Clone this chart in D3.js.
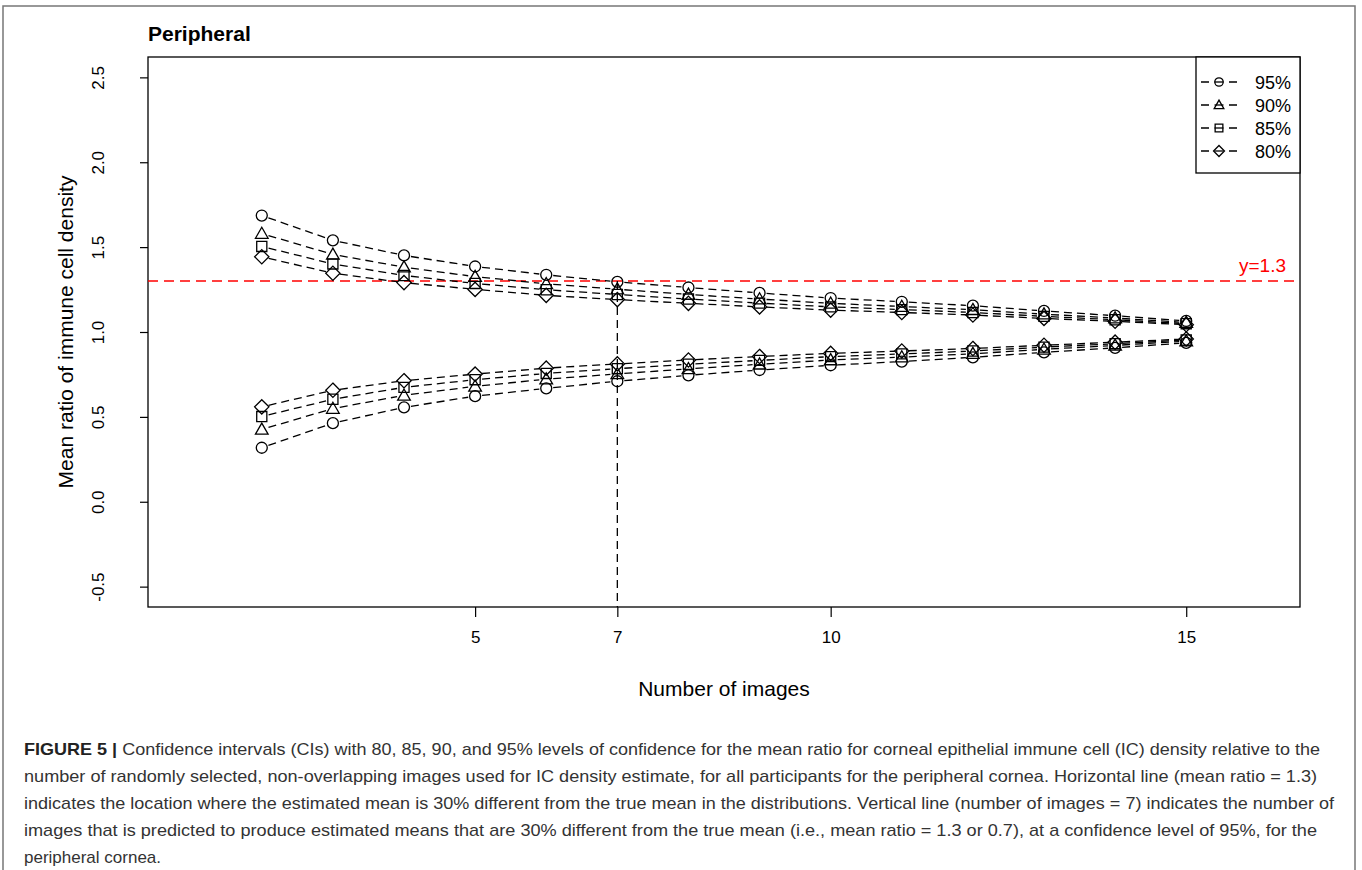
<!DOCTYPE html>
<html>
<head>
<meta charset="utf-8">
<script src="https://cdn.jsdelivr.net/npm/d3@7"></script>
<style>
  body { margin: 0; background: #fff; }
  svg text { font-family: "Liberation Sans", Arial, Helvetica, sans-serif; }
</style>
</head>
<body>
<div id="chart"></div>
<script>
// Number of images on the x axis
var nImages = [2, 3, 4, 5, 6, 7, 8, 9, 10, 11, 12, 13, 14, 15];

// Confidence levels (legend order) and their symbols
var levels = ["95%", "90%", "85%", "80%"];
var symbols = ["circle", "triangle", "square", "diamond"];

// Upper and lower CI limits of the mean ratio, per level
var upper95 = [1.686, 1.540, 1.451, 1.386, 1.337, 1.295, 1.262, 1.230, 1.200, 1.178, 1.155, 1.124, 1.096, 1.065];
var lower95 = [0.318, 0.463, 0.556, 0.622, 0.668, 0.710, 0.745, 0.776, 0.804, 0.826, 0.851, 0.880, 0.907, 0.936];
var upper90 = [1.580, 1.457, 1.382, 1.326, 1.284, 1.252, 1.221, 1.194, 1.169, 1.150, 1.131, 1.105, 1.082, 1.056];
var lower90 = [0.426, 0.549, 0.627, 0.680, 0.722, 0.753, 0.783, 0.810, 0.835, 0.852, 0.872, 0.898, 0.921, 0.946];
var upper85 = [1.504, 1.401, 1.333, 1.286, 1.249, 1.221, 1.194, 1.170, 1.148, 1.132, 1.115, 1.092, 1.072, 1.049];
var lower85 = [0.502, 0.604, 0.674, 0.719, 0.756, 0.784, 0.810, 0.833, 0.855, 0.871, 0.888, 0.911, 0.931, 0.953];
var upper80 = [1.443, 1.346, 1.291, 1.251, 1.216, 1.191, 1.169, 1.148, 1.129, 1.115, 1.100, 1.080, 1.063, 1.043];
var lower80 = [0.559, 0.657, 0.713, 0.752, 0.787, 0.812, 0.835, 0.856, 0.874, 0.888, 0.903, 0.922, 0.940, 0.959];

// Axis ticks and reference lines
var xTicks = [5, 7, 10, 15];
var yTicks = [-0.5, 0, 0.5, 1, 1.5, 2, 2.5];
var refY = 1.3;
var refX = 7;

var caption = [
  "Confidence intervals (CIs) with 80, 85, 90, and 95% levels of confidence for the mean ratio for corneal epithelial immune cell (IC) density relative to the",
  "number of randomly selected, non-overlapping images used for IC density estimate, for all participants for the peripheral cornea. Horizontal line (mean ratio = 1.3)",
  "indicates the location where the estimated mean is 30% different from the true mean in the distributions. Vertical line (number of images = 7) indicates the number of",
  "images that is predicted to produce estimated means that are 30% different from the true mean (i.e., mean ratio = 1.3 or 0.7), at a confidence level of 95%, for the",
  "peripheral cornea."
];

var W = 1362, H = 870;
var plot = {left: 148, right: 1300, top: 57, bottom: 607};

var svg = d3.select("#chart").append("svg")
  .attr("width", W).attr("height", H);

// outer frame of the figure
svg.append("path")
  .attr("d", "M3," + H + "V6H1355V" + H)
  .attr("fill", "none").attr("stroke", "#777").attr("stroke-width", 1.5);

// scales (R style: 4% extension of xlim c(1,16), ylim c(-0.5,2.5))
var x = d3.scaleLinear().domain([0.4, 16.6]).range([plot.left, plot.right]);
var y = d3.scaleLinear().domain([-0.62, 2.62]).range([plot.bottom, plot.top]);

// Title
svg.append("text").attr("x", 148).attr("y", 41)
  .style("font-size", "21px").style("font-weight", "bold").text("Peripheral");

// Plot box
svg.append("rect")
  .attr("x", plot.left).attr("y", plot.top)
  .attr("width", plot.right - plot.left).attr("height", plot.bottom - plot.top)
  .attr("fill", "none").attr("stroke", "#000").attr("stroke-width", 1.3);

// X axis
var xAxis = svg.append("g")
  .attr("transform", "translate(0," + plot.bottom + ")")
  .call(d3.axisBottom(x).tickValues(xTicks).tickSize(10).tickPadding(14).tickFormat(d3.format("d")));
xAxis.select(".domain").remove();
xAxis.selectAll("line").attr("stroke-width", 1.2);
xAxis.selectAll("text").style("font-size", "17px").attr("fill", "#000")
  .style("font-family", "'Liberation Sans', Arial, sans-serif");

// Y axis with rotated labels (R prints a plain hyphen for negatives)
var yAxis = svg.append("g")
  .attr("transform", "translate(" + plot.left + ",0)")
  .call(d3.axisLeft(y).tickValues(yTicks).tickSize(8)
    .tickFormat(function (d) { return d.toFixed(1); }));
yAxis.select(".domain").remove();
yAxis.selectAll("line").attr("stroke-width", 1.2);
yAxis.selectAll("text")
  .attr("x", null).attr("dy", null)
  .attr("transform", "translate(-44,0) rotate(-90)")
  .attr("text-anchor", "middle")
  .attr("fill", "#000")
  .style("font-size", "17px")
  .style("font-family", "'Liberation Sans', Arial, sans-serif");

// Axis titles
svg.append("text")
  .attr("transform", "translate(73," + ((plot.top + plot.bottom) / 2) + ") rotate(-90)")
  .attr("text-anchor", "middle").style("font-size", "21px").text("Mean ratio of immune cell density");
svg.append("text")
  .attr("x", (plot.left + plot.right) / 2).attr("y", 696)
  .attr("text-anchor", "middle").style("font-size", "21px").text("Number of images");

// Reference lines
svg.append("line")
  .attr("x1", plot.left).attr("x2", plot.right)
  .attr("y1", y(refY)).attr("y2", y(refY))
  .attr("stroke", "#f00").attr("stroke-width", 1.6).attr("stroke-dasharray", "10,6");
svg.append("text")
  .attr("x", 1286).attr("y", y(refY) - 9)
  .attr("text-anchor", "end").attr("fill", "#f00").style("font-size", "19px").text("y=1.3");
svg.append("line")
  .attr("x1", x(refX)).attr("x2", x(refX))
  .attr("y1", y(refY)).attr("y2", plot.bottom)
  .attr("stroke", "#000").attr("stroke-width", 1.3).attr("stroke-dasharray", "8,5");

// symbol path generator centred at 0,0
function symbolPath(type, s) {
  if (type === "circle") return "M" + (-s) + ",0a" + s + "," + s + " 0 1,0 " + (2 * s) + ",0a" + s + "," + s + " 0 1,0 " + (-2 * s) + ",0";
  if (type === "triangle") { var h = s * 1.15; return "M0," + (-h) + "L" + (h) + "," + (h * 0.75) + "L" + (-h) + "," + (h * 0.75) + "Z"; }
  if (type === "square") { var q = s * 0.92; return "M" + (-q) + "," + (-q) + "H" + q + "V" + q + "H" + (-q) + "Z"; }
  if (type === "diamond") { var d = s * 1.3; return "M0," + (-d) + "L" + d + ",0L0," + d + "L" + (-d) + ",0Z"; }
}

var series = [
  {level: levels[0], sym: symbols[0], up: upper95, lo: lower95},
  {level: levels[1], sym: symbols[1], up: upper90, lo: lower90},
  {level: levels[2], sym: symbols[2], up: upper85, lo: lower85},
  {level: levels[3], sym: symbols[3], up: upper80, lo: lower80}
];

// dashed connecting segments with gaps around the points (type = "b")
var gap = 7;
var lines = svg.append("g");
series.forEach(function (s) {
  [s.up, s.lo].forEach(function (vals) {
    for (var i = 0; i < nImages.length - 1; i++) {
      var x1 = x(nImages[i]), y1 = y(vals[i]), x2 = x(nImages[i + 1]), y2 = y(vals[i + 1]);
      var len = Math.hypot(x2 - x1, y2 - y1), ux = (x2 - x1) / len, uy = (y2 - y1) / len;
      lines.append("line")
        .attr("x1", x1 + ux * gap).attr("y1", y1 + uy * gap)
        .attr("x2", x2 - ux * gap).attr("y2", y2 - uy * gap)
        .attr("stroke", "#000").attr("stroke-width", 1.3).attr("stroke-dasharray", "8,5");
    }
  });
});

// points
var pts = svg.append("g");
series.forEach(function (s) {
  [s.up, s.lo].forEach(function (vals) {
    pts.selectAll(null).data(nImages).enter().append("path")
      .attr("transform", function (d, i) { return "translate(" + x(d) + "," + y(vals[i]) + ")"; })
      .attr("d", symbolPath(s.sym, 5.5))
      .attr("fill", "none").attr("stroke", "#000").attr("stroke-width", 1.3);
  });
});

// Legend
var lg = svg.append("g");
lg.append("rect").attr("x", 1196).attr("y", plot.top).attr("width", plot.right - 1196).attr("height", 116)
  .attr("fill", "#fff").attr("stroke", "#000").attr("stroke-width", 1.3);
var entries = lg.selectAll("g.entry").data(series).enter().append("g")
  .attr("class", "entry")
  .attr("transform", function (d, i) { return "translate(0," + (82 + i * 23) + ")"; });
entries.append("line").attr("x1", 1201).attr("x2", 1237).attr("y1", 0).attr("y2", 0)
  .attr("stroke", "#000").attr("stroke-width", 1.3).attr("stroke-dasharray", "8,20");
entries.append("path").attr("transform", "translate(1219,0)")
  .attr("d", function (d) { return symbolPath(d.sym, 4.2); })
  .attr("fill", "#fff").attr("stroke", "#000").attr("stroke-width", 1.3);
entries.append("line").attr("x1", 1214.5).attr("x2", 1223.5).attr("y1", 0).attr("y2", 0)
  .attr("stroke", "#000").attr("stroke-width", 1.3);
entries.append("text").attr("x", 1255).attr("y", 6.5)
  .style("font-size", "18px").text(function (d) { return d.level; });

// Caption
var cap = svg.append("g").attr("fill", "#333");
var capEnds = [1320, 1317, 1334, 1317];
caption.forEach(function (line, i) {
  var t = cap.append("text").attr("x", 24).attr("y", 755 + i * 27).style("font-size", "17px");
  if (i === 0) {
    t.append("tspan").style("font-weight", "bold").attr("fill", "#222").text("FIGURE 5 | ");
  }
  t.append("tspan").text(line);
  if (i < 4) t.attr("textLength", capEnds[i] - 24).attr("lengthAdjust", "spacingAndGlyphs");
});
</script>
</body>
</html>
